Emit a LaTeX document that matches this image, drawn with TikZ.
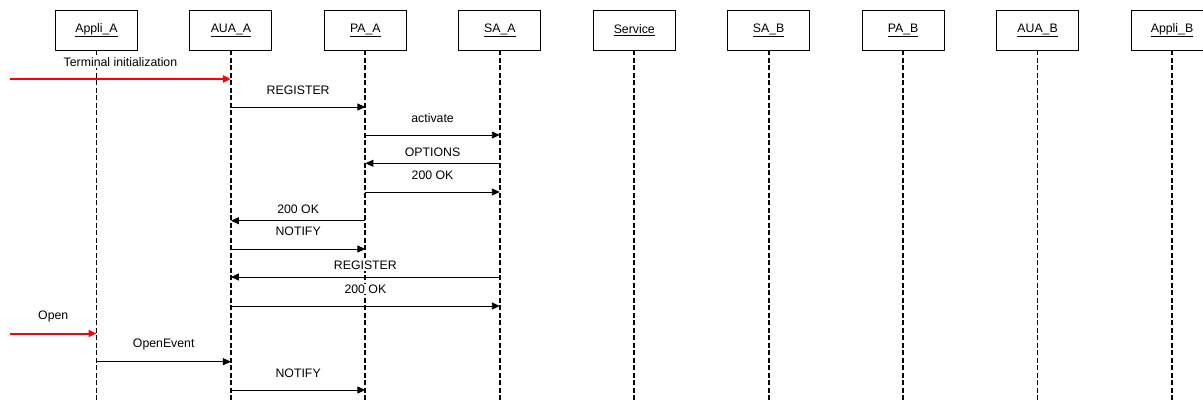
\documentclass[tikz,border=0pt]{standalone}
\usepackage{fontspec}
\setmainfont{Liberation Sans}
\usetikzlibrary{arrows.meta,calc}
\tikzset{
  actor/.style={draw=black, line width=0.9pt, fill=white, minimum width=82pt, minimum height=40pt, inner sep=0pt, font=\fontsize{12.3}{14}\selectfont},
  life/.style={draw=black, line width=1.8pt, dash pattern=on 5pt off 2.5pt},
  msg/.style={draw=black, line width=0.9pt, -{Triangle[length=8pt,width=7pt]}},
  ext/.style={draw=red, line width=2pt, -{Triangle[length=8pt,width=7pt]}},
  lbl/.style={fill=white, inner xsep=1pt, inner ysep=1pt, font=\fontsize{12.3}{14}\selectfont},
}
\newcommand{\seqmsg}[6]{% name, from, to, arrow y, label y, text
  \draw[msg] (#2 |- 0,#4) -- (#3 |- 0,#4);
  \node[lbl] (#1) at ($(#2 |- 0,#5)!0.5!(#3 |- 0,#5)$) {#6};
}
\begin{document}
\begin{tikzpicture}[x=1pt,y=-1pt]
\useasboundingbox (0,0) rectangle (1203,401);
\clip (0,0) rectangle (1203,401);
% lifeline heads
\foreach \n/\t [count=\i from 0] in {AppliA/Appli\_A, AUAA/AUA\_A, PAA/PA\_A, SAA/SA\_A, Serv/Service, SAB/SA\_B, PAB/PA\_B, AUAB/AUA\_B, AppliB/Appli\_B}{
  \node[actor] (\n) at ({96.5+134.44*\i},30) {\underline{\t}};
  \coordinate (\n-end) at ({96.5+134.44*\i},401);
  \draw[life] (\n.south) -- (\n-end);
}
% external sources
\coordinate (src1) at (10,79);
\coordinate (src2) at (10,333.5);
\draw[ext] (src1) -- (AUAA |- src1);
\node[lbl] (m1) at ($(src1 |- 0,62.3)!0.5!(AUAA |- 0,62.3)$) {Terminal initialization};
\seqmsg{m2}{AUAA}{PAA}{107}{90}{REGISTER}
\seqmsg{m3}{PAA}{SAA}{135}{118.5}{activate}
\seqmsg{m4}{SAA}{PAA}{163.3}{152.7}{OPTIONS}
\seqmsg{m5}{PAA}{SAA}{192}{175}{200 OK}
\seqmsg{m6}{PAA}{AUAA}{220.7}{209}{200 OK}
\seqmsg{m7}{AUAA}{PAA}{249}{231.7}{NOTIFY}
\seqmsg{m8}{SAA}{AUAA}{277}{265.7}{REGISTER}
\seqmsg{m9}{AUAA}{SAA}{306}{289}{200 OK}
\draw[ext] (src2) -- (AppliA |- src2);
\node[lbl] (m10) at ($(src2 |- 0,316.7)!0.5!(AppliA |- 0,316.7)$) {Open};
\seqmsg{m11}{AppliA}{AUAA}{361.7}{344.3}{OpenEvent}
\seqmsg{m12}{AUAA}{PAA}{390}{373.3}{NOTIFY}
\end{tikzpicture}
\end{document}
